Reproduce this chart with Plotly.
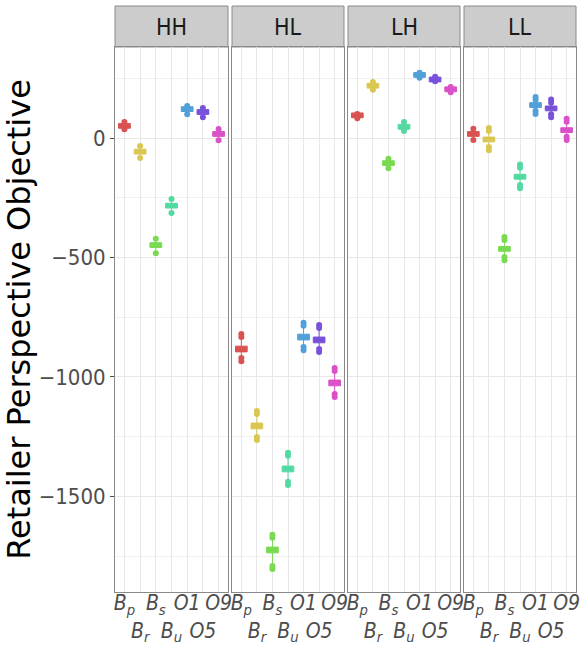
import plotly.graph_objects as go

categories = ["B_p", "B_r", "B_s", "B_u", "O1", "O5", "O9"]
tick_text = ["<i>B<sub>p</sub></i>", "&#160;<br><i>B<sub>r</sub></i>",
             "<i>B<sub>s</sub></i>", "&#160;<br><i>B<sub>u</sub></i>",
             "<i>O1</i>", "&#160;<br><i>O5</i>", "<i>O9</i>"]
panels = ["HH", "HL", "LH", "LL"]
colors = ["#DA5252", "#DAC752", "#7ADA52", "#52DAA0", "#52A0DA", "#7852DA", "#DA52C7"]

y_ticks = [0, -500, -1000, -1500]

HH_median = [51, -57, -448, -283, 121, 109, 17]
HH_q1 = [41, -67, -458, -293, 111, 99, 7]
HH_q3 = [61, -47, -438, -273, 131, 119, 27]
HH_out_hi = [[67], [-33], [-422], [-255], [134], [126], [38]]
HH_out_lo = [[37], [-84], [-482], [-314], [100], [87], [-9]]

HL_median = [-883, -1205, -1724, -1385, -833, -845, -1025]
HL_q1 = [-895, -1217, -1736, -1397, -845, -857, -1037]
HL_q3 = [-871, -1193, -1712, -1373, -821, -833, -1013]
HL_out_hi = [[-820, -833], [-1142, -1155], [-1660, -1673], [-1317, -1330],
             [-773, -786], [-782, -795], [-962, -975]]
HL_out_lo = [[-934, -921], [-1264, -1251], [-1804, -1791], [-1452, -1439],
             [-888, -875], [-896, -883], [-1084, -1071]]

LH_median = [95, 219, -105, 47, 264, 245, 204]
LH_q1 = [85, 209, -115, 37, 254, 235, 194]
LH_q3 = [105, 229, -95, 57, 274, 255, 214]
LH_out_hi = [[101], [235], [-87], [67], [273], [256], [214]]
LH_out_lo = [[83], [202], [-126], [29], [252], [238], [192]]

LL_median = [17, -6, -464, -162, 138, 124, 33]
LL_q1 = [7, -16, -474, -172, 128, 114, 23]
LL_q3 = [27, 4, -454, -152, 148, 134, 43]
LL_out_hi = [[39], [42, 29], [-414, -427], [-111, -124], [172, 159], [161, 148], [81, 68]]
LL_out_lo = [[-8], [-51, -38], [-511, -498], [-210, -197], [101, 114], [87, 100], [-8, 5]]

panel_data = {
    "HH": (HH_median, HH_q1, HH_q3, HH_out_hi, HH_out_lo),
    "HL": (HL_median, HL_q1, HL_q3, HL_out_hi, HL_out_lo),
    "LH": (LH_median, LH_q1, LH_q3, LH_out_hi, LH_out_lo),
    "LL": (LL_median, LL_q1, LL_q3, LL_out_hi, LL_out_lo),
}

W, H = 581, 646
ML, MR, MT, MB = 115, 5, 6, 54
pw = W - ML - MR
ph = H - MT - MB
px_edges = [(115, 228), (232, 344), (348, 460), (464, 576)]
domains = [[(a - ML) / pw, (b - ML) / pw] for a, b in px_edges]
ytop = (H - MB - 47) / ph

fig = go.Figure()
xpos = list(range(1, len(categories) + 1))

for pi, p in enumerate(panels):
    med, q1, q3, ohi, olo = panel_data[p]
    xa = "x" if pi == 0 else f"x{pi+1}"
    ya = "y" if pi == 0 else f"y{pi+1}"
    for ci, c in enumerate(categories):
        col = colors[ci]
        fig.add_trace(go.Box(
            x=[xpos[ci]], q1=[q1[ci]], median=[med[ci]], q3=[q3[ci]],
            lowerfence=[min(olo[ci])], upperfence=[max(ohi[ci])],
            width=0.75, whiskerwidth=0, fillcolor=col,
            line=dict(color=col, width=1), boxpoints=False,
            xaxis=xa, yaxis=ya, showlegend=False, name=c, hoverinfo="skip"))
        pts = ohi[ci] + olo[ci]
        fig.add_trace(go.Scatter(
            x=[xpos[ci]] * len(pts), y=pts, mode="markers",
            marker=dict(color=col, size=6, line=dict(width=0)),
            xaxis=xa, yaxis=ya, showlegend=False, hoverinfo="skip"))

grid_major = "#e8e8e8"
grid_minor = "#f0f0f0"
border = "#8a8a8a"
layout = dict(
    width=W, height=H, margin=dict(l=ML, r=MR, t=MT, b=MB, autoexpand=False),
    plot_bgcolor="white", paper_bgcolor="white", showlegend=False,
)
for pi, p in enumerate(panels):
    xk = "xaxis" if pi == 0 else f"xaxis{pi+1}"
    yk = "yaxis" if pi == 0 else f"yaxis{pi+1}"
    ya = "y" if pi == 0 else f"y{pi+1}"
    xa = "x" if pi == 0 else f"x{pi+1}"
    layout[xk] = dict(
        domain=domains[pi], anchor=ya, range=[0.4, 7.6],
        tickvals=xpos, ticktext=tick_text, tickangle=0,
        tickfont=dict(family="DejaVu Sans Condensed", size=21, color="#4d4d4d"),
        ticks="", ticklabelstandoff=-8, automargin=False,
        showgrid=True, gridcolor=grid_major, gridwidth=1,
        showline=True, mirror=True, linecolor=border, linewidth=1,
        zeroline=False, fixedrange=True,
    )
    yd = dict(
        domain=[0, ytop], anchor=xa, range=[-1900, 381],
        tickvals=y_ticks, automargin=False,
        showgrid=True, gridcolor=grid_major, gridwidth=1,
        minor=dict(dtick=250, tick0=0, showgrid=True, gridcolor=grid_minor, gridwidth=1),
        showline=True, mirror=True, linecolor=border, linewidth=1,
        zeroline=False,
    )
    if pi == 0:
        yd.update(
            ticks="outside", ticklen=4, tickcolor="#4d4d4d",
            tickfont=dict(family="DejaVu Sans Condensed", size=22, color="#4d4d4d"),
            title=dict(text="Retailer Perspective Objective",
                       font=dict(family="DejaVu Sans", size=32, color="#000000"),
                       standoff=0),
        )
    else:
        yd.update(matches="y", showticklabels=False, ticks="")
    layout[yk] = yd

shapes = []
annotations = []
for pi, p in enumerate(panels):
    shapes.append(dict(type="rect", xref="paper", yref="paper",
                       x0=domains[pi][0], x1=domains[pi][1], y0=ytop, y1=1.0,
                       fillcolor="#cccccc", line=dict(color=border, width=1), layer="below"))
    annotations.append(dict(text=p, xref="paper", yref="paper",
                            x=(domains[pi][0] + domains[pi][1]) / 2, y=(ytop + 1) / 2,
                            xanchor="center", yanchor="middle", showarrow=False,
                            font=dict(family="DejaVu Sans Condensed", size=23, color="#1a1a1a")))
layout["shapes"] = shapes
layout["annotations"] = annotations
fig.update_layout(**layout)

fig.write_html("out.html")
